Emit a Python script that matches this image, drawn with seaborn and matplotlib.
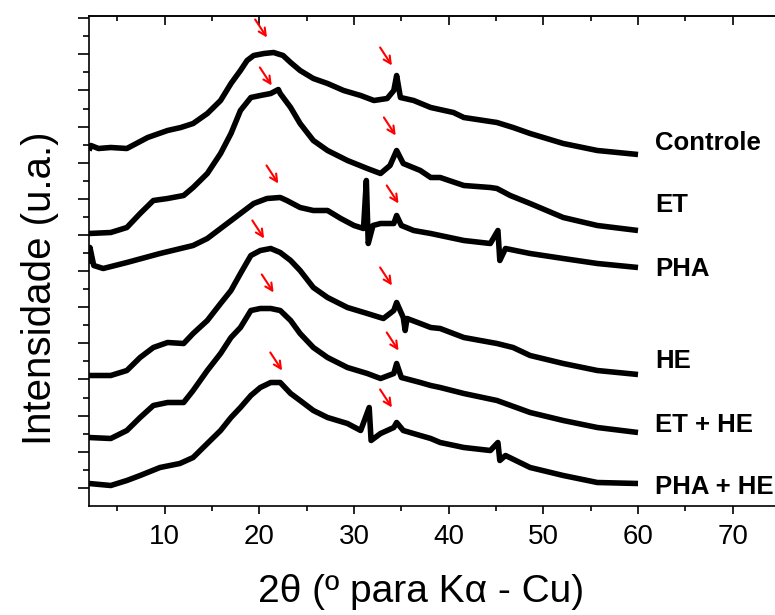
import numpy as np
import pandas as pd
import matplotlib
matplotlib.use("Agg")
import matplotlib.pyplot as plt
import seaborn as sns
from matplotlib.ticker import MultipleLocator, FixedLocator, NullFormatter

# ---------------- data (intensity in arbitrary units, stacked) -------------
controle_x = [2.0, 2.2, 3.0, 4.3, 6.0, 8.2, 10.3, 11.7, 13.0, 14.5, 15.9, 17.0, 18.0, 18.7, 19.4, 20.5,
              21.5, 22.5, 23.3, 24.3, 25.7, 27.2, 28.9, 30.7, 32.1, 33.5, 34.2, 34.5, 34.9, 36.3, 38.1,
              40.5, 41.6, 45.1, 46.8, 48.6, 52.1, 55.7, 60.0]
controle_y = [355, 360, 357, 358, 357, 368, 375, 378, 382, 392, 405, 422, 435, 445, 450, 452,
              453, 450, 443, 435, 427, 422, 415, 410, 405, 407, 415, 430, 408, 405, 398,
              393, 388, 383, 378, 372, 362, 355, 351]

et_x = [2.0, 4.3, 6.0, 7.4, 8.8, 10.3, 12.0, 13.0, 14.5, 15.9, 17.0, 18.0, 19.1, 20.1, 21.2, 22.0,
        22.2, 23.3, 24.3, 25.7, 27.2, 29.3, 31.4, 32.8, 33.8, 34.5, 35.2, 37.0, 38.1, 39.1, 41.6,
        44.4, 45.1, 46.5, 48.6, 52.1, 55.7, 60.0]
et_y = [272, 273, 278, 292, 305, 307, 310, 318, 332, 352, 372, 395, 408, 410, 412, 416,
        412, 398, 382, 365, 355, 345, 337, 332, 340, 355, 342, 335, 328, 328, 320,
        318, 317, 310, 302, 288, 280, 275]

pha_x = [2.0, 2.1, 2.5, 3.5, 6.0, 9.5, 13.0, 14.5, 16.6, 18.0, 19.4, 20.8, 22.2, 22.9, 24.3, 25.7,
         27.2, 28.6, 30.0, 31.0, 31.3, 31.5, 32.0, 32.8, 34.2, 34.5, 35.0, 36.3, 38.1, 41.6, 44.4,
         45.2, 45.4, 46.0, 48.6, 52.1, 55.7, 60.0]
pha_y = [242, 258, 240, 237, 243, 252, 260, 267, 282, 292, 302, 307, 308, 305, 298, 295,
         295, 287, 280, 277, 325, 262, 280, 282, 282, 290, 280, 275, 272, 265, 262,
         275, 245, 257, 252, 247, 242, 238]

he_x = [2.0, 4.3, 6.0, 7.4, 8.8, 10.3, 12.0, 13.0, 14.5, 15.9, 17.0, 18.0, 19.1, 20.1, 21.2, 22.2,
        23.3, 24.3, 25.7, 27.2, 29.3, 31.4, 33.1, 34.2, 34.5, 35.2, 35.4, 35.6, 37.0, 38.1, 39.1,
        41.6, 45.1, 46.8, 48.6, 52.1, 55.7, 60.0]
he_y = [130, 130, 135, 148, 158, 163, 162, 172, 185, 202, 215, 232, 250, 255, 257, 253,
        245, 235, 218, 208, 198, 192, 187, 195, 203, 188, 175, 187, 182, 178, 177,
        168, 162, 158, 150, 142, 135, 131]

ethe_x = [2.0, 4.3, 6.0, 7.4, 8.8, 10.3, 12.0, 13.0, 14.5, 15.9, 17.0, 18.0, 19.1, 20.1, 21.2, 22.2,
          23.3, 24.3, 25.7, 27.2, 29.3, 31.4, 32.8, 34.2, 34.5, 35.0, 37.0, 38.1, 39.1, 41.6, 45.1,
          48.6, 52.1, 55.7, 60.0]
ethe_y = [68, 67, 75, 88, 100, 103, 103, 115, 135, 152, 168, 178, 195, 197, 197, 195,
          185, 172, 158, 148, 138, 132, 127, 132, 142, 128, 123, 120, 118, 112, 105,
          93, 85, 78, 73]

phahe_x = [2.0, 4.3, 6.0, 7.4, 9.5, 11.6, 13.0, 14.5, 15.9, 17.0, 18.0, 19.1, 20.1, 21.2, 22.2, 23.3,
           24.3, 25.7, 27.2, 29.3, 30.7, 31.6, 31.8, 32.8, 34.2, 34.5, 35.2, 37.0, 38.1, 39.1, 41.6,
           44.4, 45.2, 45.4, 46.0, 48.6, 52.1, 55.7, 60.0]
phahe_y = [22, 20, 25, 30, 38, 42, 48, 62, 75, 88, 98, 110, 118, 123, 123, 112,
           105, 95, 88, 82, 75, 98, 65, 72, 78, 83, 75, 70, 67, 63, 58,
           55, 63, 45, 50, 38, 30, 23, 22]

sample_names = ["Controle", "ET", "PHA", "HE", "ET + HE", "PHA + HE"]

# red arrows marking peaks (tip positions in data coordinates)
arrow_x = [20.8, 34.0, 21.3, 34.4, 22.0, 34.7, 20.5, 34.0, 21.5, 34.7, 22.4, 34.0]
arrow_y = [468, 440, 420, 370, 322, 302, 267, 220, 213, 155, 135, 98]

x_ticks = [10, 20, 30, 40, 50, 60, 70]

# ---------------- figure ----------------
sns.set_style("ticks")
plt.rcParams["font.family"] = ["Liberation Sans", "DejaVu Sans"]
plt.rcParams["text.color"] = "black"
plt.rcParams["axes.labelcolor"] = "black"
plt.rcParams["xtick.color"] = "black"
plt.rcParams["ytick.color"] = "black"

fig = plt.figure(figsize=(7.75, 6.15), dpi=100)
ax = fig.add_axes([89 / 775, 1 - 505.5 / 615, (780 - 89) / 775, (505.5 - 16) / 615])

series = [(controle_x, controle_y), (et_x, et_y), (pha_x, pha_y),
          (he_x, he_y), (ethe_x, ethe_y), (phahe_x, phahe_y)]
frames = []
for name, (xs, ys) in zip(sample_names, series):
    frames.append(pd.DataFrame({"x": xs, "y": ys, "amostra": name}))
df = pd.concat(frames, ignore_index=True)

for name in sample_names:
    sub = df[df["amostra"] == name]
    sns.lineplot(data=sub, x="x", y="y", color="black", lw=4.0, estimator=None,
                 sort=False, ax=ax, legend=False, solid_joinstyle="round",
                 solid_capstyle="butt")

# curve labels
label_y = [355, 293, 230, 137, 73, 12]
for name, ly in zip(sample_names, label_y):
    ax.text(61.8, ly, name, fontsize=18.5, fontweight="bold", ha="left", va="baseline",
            color="black", clip_on=False)

# arrows
for tx, ty in zip(arrow_x, arrow_y):
    ax.annotate("", xy=(tx, ty), xytext=(-8.5, 13), textcoords="offset points",
                arrowprops=dict(arrowstyle="->", color="red", lw=1.5, shrinkA=0, shrinkB=0,
                                mutation_scale=13))

ax.set_xlim(2, 75)
ax.set_ylim(0, 489.5)

ax.xaxis.set_major_locator(FixedLocator(x_ticks))
ax.xaxis.set_minor_locator(MultipleLocator(5))
ax.yaxis.set_major_locator(FixedLocator(np.arange(17.7, 489, 36.12)))
ax.yaxis.set_minor_locator(FixedLocator(np.arange(35.76, 489, 36.12)))
ax.yaxis.set_major_formatter(NullFormatter())
ax.tick_params(axis="x", which="major", direction="out", length=6, width=1.2,
               labelsize=20, pad=7.5, top=False, colors="black")
ax.tick_params(axis="x", which="minor", direction="out", length=3.6, width=1.2, top=False)
ax.tick_params(axis="y", which="major", direction="out", length=8, width=1.2, right=False)
ax.tick_params(axis="y", which="minor", direction="out", length=4, width=1.2, right=False)

sec = ax.secondary_xaxis("top")
sec.xaxis.set_major_locator(FixedLocator(x_ticks))
sec.xaxis.set_minor_locator(MultipleLocator(5))
sec.tick_params(axis="x", which="major", direction="in", length=6.5, width=1.2, labeltop=False)
sec.tick_params(axis="x", which="minor", direction="in", length=3.4, width=1.2)
sec.spines["top"].set_linewidth(1.2)

for s in ["left", "bottom", "top"]:
    ax.spines[s].set_linewidth(1.2)
    ax.spines[s].set_color("black")
ax.spines["right"].set_visible(False)

ax.set_xlabel("")
ax.set_ylabel("")
fig.text(421 / 775, 1 - 592 / 615, "2θ (º para Kα - Cu)", fontsize=28, ha="center",
         va="center", color="black")
fig.text(40 / 775, 1 - 288 / 615, "Intensidade (u.a.)", fontsize=29, rotation=90,
         ha="center", va="center", color="black")

fig.savefig("out.png", dpi=100)
